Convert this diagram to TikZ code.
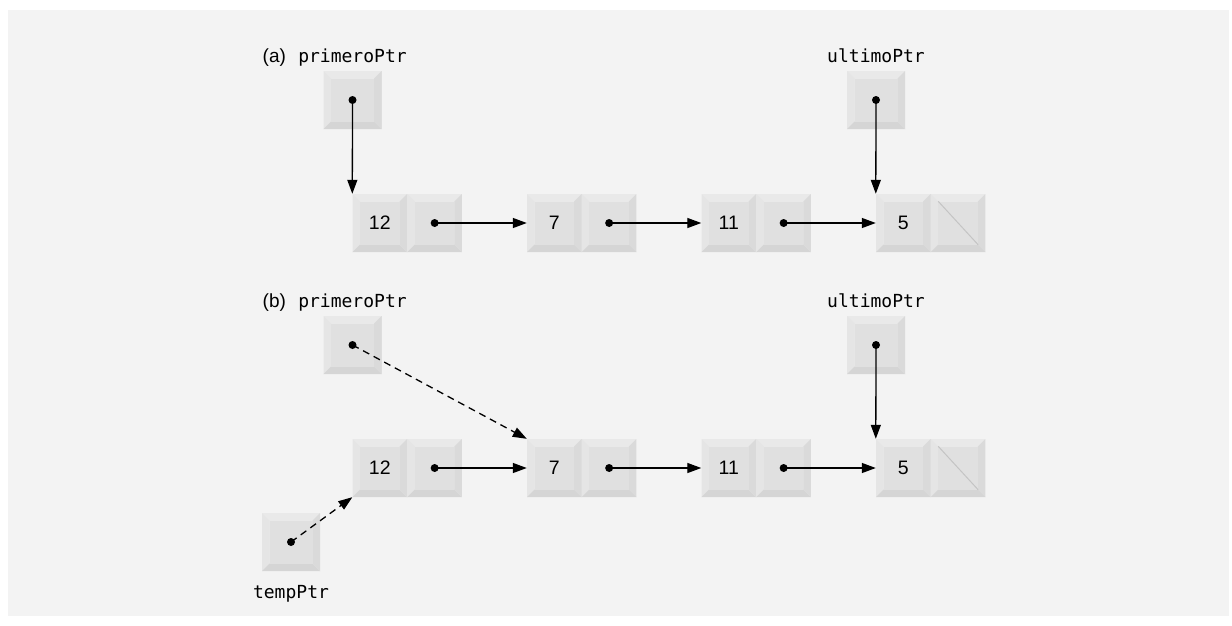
\documentclass[tikz,border=0pt]{standalone}
\usepackage{fontspec}
\usepackage{tikz}
\usetikzlibrary{arrows.meta, calc, positioning}
\newfontfamily\letra{Liberation Sans}
\newfontfamily\codigo{DejaVu Sans Mono}
\definecolor{fondo}{HTML}{F3F3F3}
\definecolor{biselsup}{HTML}{E9E9E9}
\definecolor{biselizq}{HTML}{E5E5E5}
\definecolor{cara}{HTML}{E0E0E0}
\definecolor{biselder}{HTML}{DADADA}
\definecolor{biselinf}{HTML}{D5D5D5}
\definecolor{diagonal}{HTML}{C4C4C4}
\def\bs{7.5pt}
\tikzset{x=1pt,y=-1pt}
\tikzset{
  bisel/.style={inner sep=0pt, fill=cara, path picture={
    \path (path picture bounding box.north west) coordinate (NW) +(\bs,-\bs) coordinate (nw)
          (path picture bounding box.north east) coordinate (NE) +(-\bs,-\bs) coordinate (ne)
          (path picture bounding box.south west) coordinate (SW) +(\bs,\bs) coordinate (sw)
          (path picture bounding box.south east) coordinate (SE) +(-\bs,\bs) coordinate (se);
    \fill[biselsup] (NW) rectangle (SE);
    \fill[biselizq] (NW) -- (nw) -- (sw) -- (SW) -- cycle;
    \fill[biselinf] (SW) -- (sw) -- (se) -- (SE) -- cycle;
    \fill[biselder] (SE) -- (se) -- (ne) -- (NE) -- cycle;
    \fill[cara] (nw) rectangle (se);
  }},
  valor/.style={bisel, minimum width=54.5pt, minimum height=58pt,
    font=\letra\fontsize{19.5}{21}\selectfont},
  enlace/.style={bisel, minimum width=54.5pt, minimum height=58pt},
  puntero/.style={bisel, minimum size=58pt},
  punto/.style={circle, fill=black, inner sep=0pt, minimum size=8pt},
  etiqueta/.style={inner sep=0pt, font=\codigo\fontsize{18}{20}\selectfont},
  rotulo/.style={inner sep=0pt, font=\letra\fontsize{19}{21}\selectfont},
  flecha/.style={-{Triangle[length=14pt,width=10pt]}, line width=1.3pt},
  discont/.style={flecha, dash pattern=on 7pt off 5pt},
  nulo/.style={draw=diagonal, line width=1pt}
}

\begin{document}
\begin{tikzpicture}
  \useasboundingbox (0,0) rectangle (1232,625);
  \fill[fondo] (8,10) rectangle (1229,616);
  % the two lists
  \foreach \f/\y in {a/223, b/468}{
    \foreach \v/\x [count=\i] in {12/379.75, 7/554.25, 11/728.75, 5/903.25}{
      \node[valor] (\f\i) at (\x,\y) {\v};
      \node[enlace, right=0pt of \f\i] (\f\i e) {};
    }
    \foreach \i/\j in {1/2, 2/3, 3/4}{
      \node[punto] (\f\i p) at (\f\i e) {};
      \draw[flecha] (\f\i p.center) -- (\f\j.west);
    }
    % NULL link
    \draw[nulo] ($(\f4e.north west)+(\bs,-\bs)$) -- ($(\f4e.south east)+(-\bs,\bs)$);
  }
  % pointers
  \node[puntero] (pA) at (352.5,100) {};
  \node[puntero] (uA) at (876,100) {};
  \node[puntero] (pB) at (352.5,345) {};
  \node[puntero] (uB) at (876,345) {};
  \node[puntero] (tB) at (291,542) {};
  \foreach \p in {pA, uA, pB, uB, tB}
    \node[punto] (\p p) at (\p) {};
  % labels
  \node[etiqueta, above=4pt of pA] (lpA) {primeroPtr};
  \node[rotulo, base left=12pt of lpA] (ra) {(a)};
  \node[etiqueta, anchor=base] (luA) at (uA.north |- lpA.base) {ultimoPtr};
  \node[etiqueta, above=4pt of pB] (lpB) {primeroPtr};
  \node[rotulo, base left=12pt of lpB] (rb) {(b)};
  \node[etiqueta, anchor=base] (luB) at (uB.north |- lpB.base) {ultimoPtr};
  \node[etiqueta, below=14pt of tB] (ltB) {tempPtr};
  % connectors
  \draw[flecha] (pAp.center) -- (a1.north west);
  \draw[flecha] (uAp.center) -- (a4.north west);
  \draw[flecha] (uBp.center) -- (b4.north west);
  \draw[discont] (pBp.center) -- (b2.north west);
  \draw[discont] (tBp.center) -- (b1.south west);
\end{tikzpicture}
\end{document}
